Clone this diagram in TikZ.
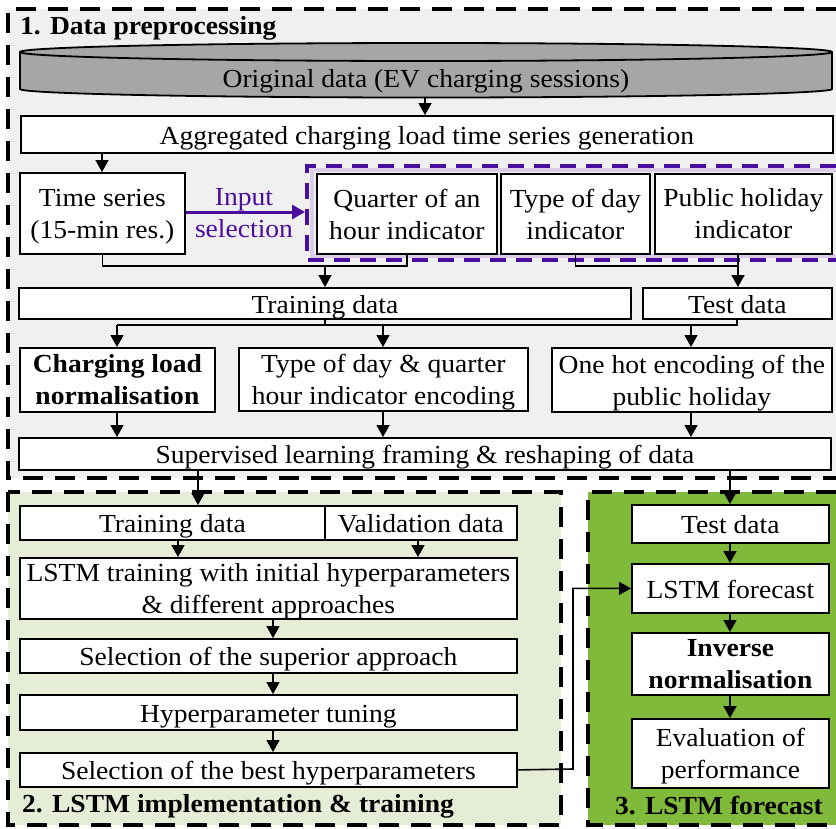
\documentclass[tikz,border=0pt]{standalone}
\usepackage{fontspec}
\setmainfont{Liberation Serif}
\newfontfamily\tnr[FakeStretch=1.06]{Liberation Serif}
\usetikzlibrary{arrows.meta}
\definecolor{secone}{HTML}{F0F0F0}
\definecolor{sectwo}{HTML}{E6EDD6}
\definecolor{secthree}{HTML}{80BA3A}
\definecolor{cylgray}{HTML}{A6A6A6}
\definecolor{purp}{HTML}{4A0E9E}
\definecolor{lav}{HTML}{D9CCE9}
\tikzset{
  txt/.style={font=\tnr\fontsize{26}{32}\selectfont},
  btxt/.style={font=\tnr\bfseries\fontsize{26}{32}\selectfont},
  box/.style={draw=black, line width=1.8pt, fill=white, inner sep=0pt, align=center, anchor=north west, txt},
  one/.style={text height=21pt, text depth=1pt},
  two/.style={text depth=0pt},
  conn/.style={line width=1.6pt, draw=black},
  arr/.style={conn, -{Triangle[length=12pt,width=13pt]}},
  section/.style={line width=4pt, dash pattern=on 20pt off 12pt},
  title/.style={btxt, anchor=west, inner sep=0pt}
}
\begin{document}
\begin{tikzpicture}[x=1pt,y=-1pt]
\useasboundingbox (0,0) rectangle (836,828);
% sections
\fill[secone] (8,9) rectangle (836,478);
\draw[section] (836,9) -- (8,9) -- (8,478) -- (836,478);
\fill[sectwo] (8,492) rectangle (561,825);
\draw[section] (8,492) rectangle (561,825);
\fill[secthree] (588,492) rectangle (836,825);
\draw[section] (836,492) -- (588,492) -- (588,825) -- (836,825);
% purple group
\draw[lav, line width=4pt] (836,170) -- (312,170) -- (312,256) -- (836,256);
\draw[purp, line width=4pt, dash pattern=on 16pt off 10pt] (836,166) -- (307,166) -- (307,260) -- (836,260);
\node[title] (t1) at (20,28) {1. Data preprocessing};
\node[title] (t2) at (22,806) {2. LSTM implementation \& training};
\node[title, anchor=center] (t3) at (719,806) {3. LSTM forecast};
% cylinder
\draw[line width=1.8pt, fill=cylgray] (20,52) -- (20,89) arc[start angle=180, end angle=0, x radius=406, y radius=8.5] -- (832,52) arc[start angle=0, end angle=-180, x radius=406, y radius=9] -- cycle;
\draw[line width=1.8pt] (20,52) arc[start angle=180, end angle=0, x radius=406, y radius=9];
\node[txt, inner sep=0pt, one] (orig) at (426,77) {Original data (EV charging sessions)};
\coordinate (origb) at (425,97);
% boxes
\node[box, one, minimum width=812pt, minimum height=37pt] (agg) at (20,115) {Aggregated charging load time series generation};
\node[box, two, minimum width=165pt, minimum height=81pt] (ts) at (19,172) {Time series\\(15-min res.)};
\node[box, two, minimum width=180pt, minimum height=80pt] (qh) at (316,173) {Quarter of an\\hour indicator};
\node[box, two, minimum width=149pt, minimum height=80pt] (td) at (500,173) {Type of day\\indicator};
\node[box, two, minimum width=177pt, minimum height=80pt] (ph) at (654,173) {Public holiday\\indicator};
\node[box, one, minimum width=612pt, minimum height=31pt] (train) at (18,287) {Training data};
\node[box, one, minimum width=189pt, minimum height=31pt] (test) at (642,287) {Test data};
\node[box, two, minimum width=195pt, minimum height=64pt, btxt] (cln) at (19,347) {Charging load\\normalisation};
\node[box, two, minimum width=289pt, minimum height=63pt] (tde) at (238,347) {Type of day \& quarter\\hour indicator encoding};
\node[box, two, minimum width=280pt, minimum height=64pt] (ohe) at (551,347) {One hot encoding of the\\public holiday};
\node[box, one, minimum width=812pt, minimum height=32pt] (sup) at (18,437) {Supervised learning framing \& reshaping of data};
% section 2
\node[box, one, minimum width=305pt, minimum height=34pt] (tr2) at (19,505) {Training data};
\node[box, one, minimum width=192pt, minimum height=34pt] (val) at (324,505) {Validation data};
\node[box, two, minimum width=497pt, minimum height=61pt] (lstm) at (19,557) {LSTM training with initial hyperparameters\\\& different approaches};
\node[box, one, minimum width=497pt, minimum height=34pt] (sel) at (19,638) {Selection of the superior approach};
\node[box, one, minimum width=497pt, minimum height=35pt] (hyp) at (19,694) {Hyperparameter tuning};
\node[box, one, minimum width=497pt, minimum height=34pt] (best) at (19,752) {Selection of the best hyperparameters};
% section 3
\node[box, one, minimum width=197pt, minimum height=38pt] (test3) at (631,504) {Test data};
\node[box, one, minimum width=197pt, minimum height=49pt] (fc) at (631,563) {LSTM forecast};
\node[box, two, minimum width=197pt, minimum height=62pt, btxt] (inv) at (631,632) {Inverse\\normalisation};
\node[box, two, minimum width=197pt, minimum height=69pt] (eval) at (631,718) {Evaluation of\\performance};
% input selection
\node[txt, two, text=purp, align=center, inner sep=0pt] (insel) at (244,213) {Input\\selection};
\coordinate (pbox) at (305,212);
\draw[purp, line width=3pt, -{Triangle[length=13pt,width=14pt]}] (ts.east |- pbox) -- (pbox);
% connectors
\draw[arr] (origb) -- (agg.north -| origb);
\draw[arr] (agg.south -| 102,0) -- (ts.north -| 102,0);
\coordinate (j1) at (325,266);
\coordinate (j2) at (738,266);
\coordinate (j3) at (325,325);
\draw[conn] (ts.south) |- (407,266) -- (qh.south -| 407,0);
\draw[arr] (j1) -- (train.north -| j1);
\draw[conn] (td.south) |- (j2);
\draw[arr] (ph.south -| j2) -- (test.north -| j2);
\draw[conn] (train.south -| j3) -- (j3);
\draw[conn] (117,325) -- (737,325) -- (test.south -| 737,0);
\draw[arr] (117,325) -- (cln.north -| 117,0);
\draw[arr] (383,325) -- (tde.north -| 383,0);
\draw[arr] (691,325) -- (ohe.north -| 691,0);
\draw[arr] (cln.south -| 117,0) -- (sup.north -| 117,0);
\draw[arr] (tde.south -| 383,0) -- (sup.north -| 383,0);
\draw[arr] (ohe.south -| 691,0) -- (sup.north -| 691,0);
\draw[arr] (sup.south -| 198,0) -- (tr2.north -| 198,0);
\draw[arr] (sup.south -| 730,0) -- (test3.north -| 730,0);
\draw[arr] (tr2.south -| 178,0) -- (lstm.north -| 178,0);
\draw[arr] (val.south -| 418,0) -- (lstm.north -| 418,0);
\draw[arr] (lstm.south -| 273,0) -- (sel.north -| 273,0);
\draw[arr] (sel.south -| 273,0) -- (hyp.north -| 273,0);
\draw[arr] (hyp.south -| 273,0) -- (best.north -| 273,0);
\draw[arr] (best.east) -- (573,769) |- (fc.west);
\draw[arr] (test3.south -| 730,0) -- (fc.north -| 730,0);
\draw[arr] (fc.south -| 730,0) -- (inv.north -| 730,0);
\draw[arr] (inv.south -| 730,0) -- (eval.north -| 730,0);
\end{tikzpicture}
\end{document}
